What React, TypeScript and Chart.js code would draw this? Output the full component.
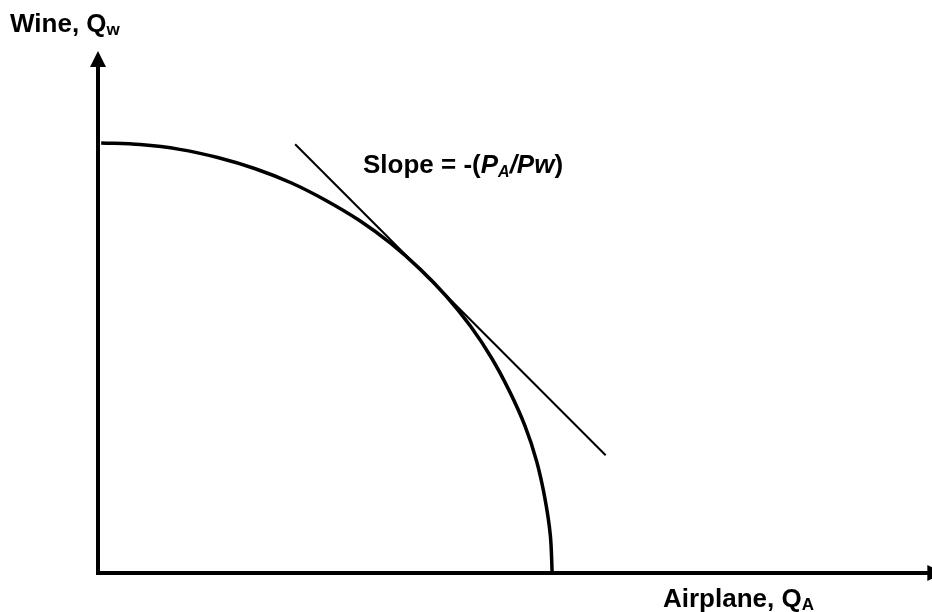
import React, { useEffect, useRef } from "react";
import { Chart, registerables } from "chart.js";

Chart.register(...registerables);

// Production possibility frontier (Airplane Q_A vs Wine Q_W)
const frontierQA = [0.7, 9.3, 18.0, 26.4, 34.7, 42.7, 50.4, 57.7, 64.6, 71.0, 76.9, 82.2, 86.8, 90.8, 94.2, 96.8, 98.6, 99.8, 100.2];
const frontierQW = [99.7, 99.3, 98.2, 96.3, 93.7, 90.4, 86.3, 81.7, 76.4, 70.5, 64.1, 57.2, 49.9, 42.1, 34.1, 25.8, 17.3, 8.7, 0];

// Tangent (relative price) line
const tangentQA = [43.5, 112.0];
const tangentQW = [99.4, 27.3];

// Axis extents
const axisMaxQA = 184;
const axisMaxQW = 121;
const arrowTipQA = 186.5;

// Texts
const yAxisLabel = ["Wine, Q", "w"];
const xAxisLabel = ["Airplane, Q", "A"];
const slopeLabel = ["Slope = -(", "P", "A", "/Pw", ")"];

const FONT = "'Liberation Sans', Arial, Helvetica, sans-serif";

type Run = { t: string; size: number; italic?: boolean; dy?: number };

function drawRuns(ctx: CanvasRenderingContext2D, runs: Run[], x: number, y: number) {
  let cx = x;
  ctx.textBaseline = "alphabetic";
  ctx.textAlign = "left";
  for (const r of runs) {
    ctx.font = `${r.italic ? "italic " : ""}bold ${r.size}px ${FONT}`;
    ctx.fillText(r.t, cx, y + (r.dy || 0));
    cx += ctx.measureText(r.t).width;
  }
}

const overlayPlugin = {
  id: "ppfOverlay",
  afterDatasetsDraw(chart: any) {
    const { ctx, scales } = chart;
    const xs = scales.x;
    const ys = scales.y;
    const x0 = xs.getPixelForValue(0);
    const y0 = ys.getPixelForValue(0);
    const yTop = ys.getPixelForValue(axisMaxQW);
    const xEnd = xs.getPixelForValue(arrowTipQA);
    ctx.save();
    ctx.strokeStyle = "#000";
    ctx.fillStyle = "#000";
    ctx.lineWidth = 4;
    ctx.lineCap = "butt";
    // y axis
    ctx.beginPath();
    ctx.moveTo(x0, y0 + 2);
    ctx.lineTo(x0, yTop + 14);
    ctx.stroke();
    // x axis
    ctx.beginPath();
    ctx.moveTo(x0 - 2, y0);
    ctx.lineTo(xEnd - 14, y0);
    ctx.stroke();
    // arrow heads
    ctx.beginPath();
    ctx.moveTo(x0, yTop);
    ctx.lineTo(x0 - 8, yTop + 16);
    ctx.lineTo(x0 + 8, yTop + 16);
    ctx.closePath();
    ctx.fill();
    ctx.beginPath();
    ctx.moveTo(xEnd, y0);
    ctx.lineTo(xEnd - 16, y0 - 8);
    ctx.lineTo(xEnd - 16, y0 + 8);
    ctx.closePath();
    ctx.fill();

    // labels
    drawRuns(ctx, [
      { t: yAxisLabel[0], size: 26 },
      { t: yAxisLabel[1], size: 17, dy: 3 },
    ], 10, 32);
    drawRuns(ctx, [
      { t: xAxisLabel[0], size: 26 },
      { t: xAxisLabel[1], size: 17, dy: 3 },
    ], 663, 607);
    drawRuns(ctx, [
      { t: slopeLabel[0], size: 26 },
      { t: slopeLabel[1], size: 26, italic: true },
      { t: slopeLabel[2], size: 16, italic: true, dy: 4 },
      { t: slopeLabel[3], size: 26, italic: true },
      { t: slopeLabel[4], size: 26 },
    ], 363, 173);
    ctx.restore();
  },
};

export default function App() {
  const ref = useRef<HTMLCanvasElement | null>(null);
  useEffect(() => {
    document.body.style.margin = "0";
    const canvas = ref.current;
    if (!canvas) return;
    const chart = new Chart(canvas, {
      type: "line",
      data: {
        datasets: [
          {
            label: "Frontier",
            data: frontierQA.map((q, i) => ({ x: q, y: frontierQW[i] })),
            borderColor: "#000",
            borderWidth: 3.5,
            pointRadius: 0,
            fill: false,
            tension: 0.33,
          },
          {
            label: "Tangent",
            data: tangentQA.map((q, i) => ({ x: q, y: tangentQW[i] })),
            borderColor: "#000",
            borderWidth: 2,
            pointRadius: 0,
            fill: false,
            tension: 0,
          },
        ],
      },
      options: {
        responsive: false,
        maintainAspectRatio: false,
        animation: false,
        devicePixelRatio: 1,
        layout: { padding: { left: 98, top: 51, right: 0, bottom: 39 } },
        scales: {
          x: { type: "linear", min: 0, max: axisMaxQA, display: false },
          y: { type: "linear", min: 0, max: axisMaxQW, display: false },
        },
        plugins: {
          legend: { display: false },
          tooltip: { enabled: false },
        },
      },
      plugins: [overlayPlugin],
    } as any);
    return () => chart.destroy();
  }, []);
  return (
    <div style={{ position: "absolute", left: 0, top: 0, width: 932, height: 612, background: "#fff" }}>
      <canvas ref={ref} width={932} height={612} style={{ width: 932, height: 612 }} />
    </div>
  );
}
